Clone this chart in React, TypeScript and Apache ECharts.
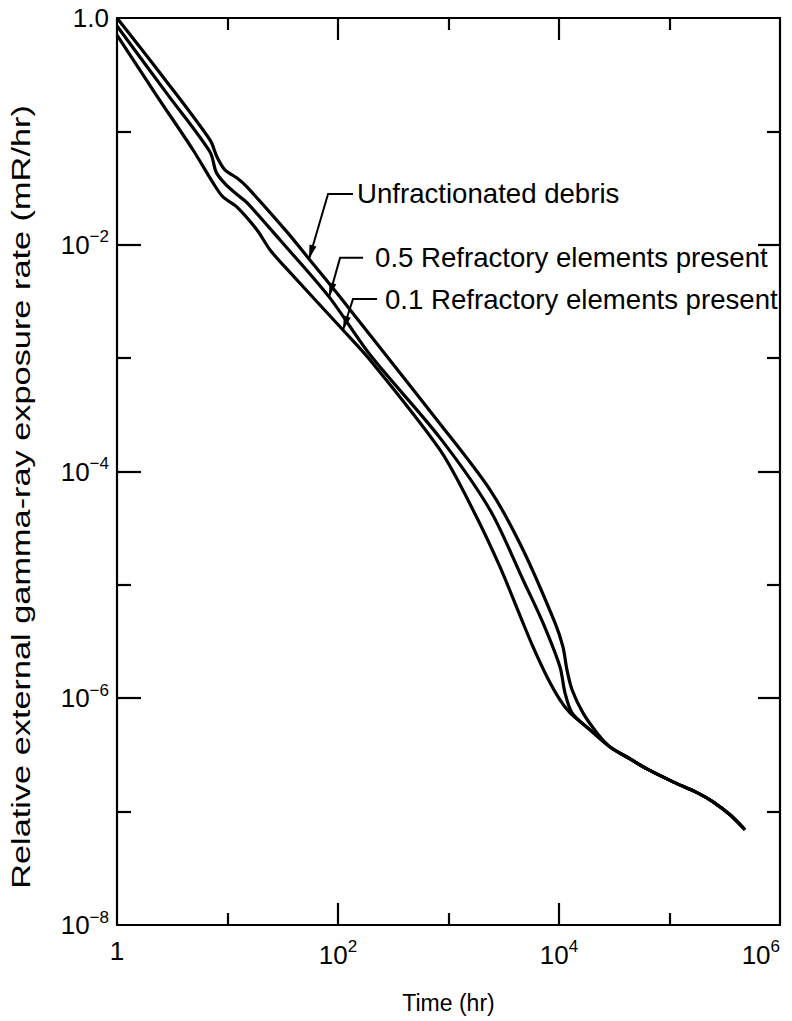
import React, { useEffect, useRef } from "react";
import * as echarts from "echarts";

// ---- data (time in hr, relative exposure rate) ----
const timeUnfrac = [1, 2.61, 6.95, 8.04, 9.48, 12.2, 15.0, 34.5, 54.7, 104, 195, 787, 2377, 4721, 9204, 10860, 11800, 13120, 16480, 22080];
const rateUnfrac = [1, 0.302, 0.0839, 0.0594, 0.0457, 0.0388, 0.0324, 0.013, 0.0075, 0.00347, 0.0016, 0.000285, 6.89e-5, 2.04e-5, 4.62e-6, 2.84e-6, 1.78e-6, 1.19e-6, 7.43e-7, 4.95e-7];

const timeHalf = [1, 2.9, 6.95, 7.9, 9.48, 12.2, 15.0, 29.9, 83.0, 195, 838, 2377, 4721, 7161, 10210, 11320, 13120, 19100];
const rateHalf = [0.849, 0.209, 0.0658, 0.0436, 0.0346, 0.0277, 0.0235, 0.011, 0.00347, 0.00107, 0.000198, 4.58e-5, 1.11e-5, 4.62e-6, 1.89e-6, 1.12e-6, 7.43e-7, 5.26e-7];

const timeTenth = [1, 2.3, 4.88, 7.4, 9.1, 12.2, 18.5, 24.3, 33.1, 111, 195, 838, 1667, 2924, 4721, 5821, 7780, 10210, 12590, 19100];
const rateTenth = [0.708, 0.205, 0.0685, 0.0351, 0.0264, 0.0215, 0.0135, 0.00899, 0.00637, 0.00177, 0.000964, 0.000155, 4.58e-5, 1.44e-5, 4.62e-6, 2.84e-6, 1.55e-6, 9.68e-7, 7.43e-7, 5.26e-7];

// common tail after the curves merge
const timeTail = [28970, 43950, 62520, 107700, 177500, 247700, 353200, 481900];
const rateTail = [3.72e-7, 2.92e-7, 2.38e-7, 1.83e-7, 1.47e-7, 1.22e-7, 9.37e-8, 6.92e-8];

const seriesNames = ["Unfractionated debris", "0.5 Refractory elements present", "0.1 Refractory elements present"];

// tick values and labels
const xLabelValues = [1, 1e2, 1e4, 1e6];
const xLabelBase = ["1", "10", "10", "10"];
const xLabelExp = ["", "2", "4", "6"];
const xShortTicks = [10, 1e3, 1e5];
const xLongTicks = [1e2, 1e4];

const yLabelValues = [1, 1e-2, 1e-4, 1e-6, 1e-8];
const yLabelBase = ["1.0", "10", "10", "10", "10"];
const yLabelExp = ["", "\u22122", "\u22124", "\u22126", "\u22128"];
const yShortTicks = [1e-1, 1e-3, 1e-5, 1e-7];
const yLongTicks = [1e-2, 1e-4, 1e-6];

// annotation anchor points (on curves, data space)
const annotTip: [number, number][] = [[54.7, 0.0075], [83.0, 0.00347], [111, 0.00177]];

const FONT = "Liberation Sans, Arial, Helvetica, sans-serif";

function findIdx(list: number[], v: number) {
  return list.findIndex((x) => Math.abs(Math.log10(x) - Math.log10(v)) < 1e-6);
}

const rich = {
  b: { fontSize: 26, fontFamily: FONT, color: "#000" },
  s: { fontSize: 17, fontFamily: FONT, color: "#000", padding: [0, 0, 16, 0] },
};

function fmt(bases: string[], exps: string[], values: number[]) {
  return (v: number) => {
    const i = findIdx(values, v);
    if (i < 0) return "";
    if (!exps[i]) return `{b|${bases[i]}}`;
    return `{b|${bases[i]}}{s|${exps[i]}}`;
  };
}

const pair = (t: number[], r: number[]) => t.map((x, i) => [x, r[i]]);

export default function App() {
  const ref = useRef<HTMLDivElement>(null);
  useEffect(() => {
    if (!ref.current) return;
    const chart = echarts.init(ref.current, null, { renderer: "svg" });
    const lineW = 2.2;
    const xBase = { type: "log", logBase: 10, min: 1, max: 1e6, splitLine: { show: false } };
    const yBase = { type: "log", logBase: 10, min: 1e-8, max: 1, splitLine: { show: false } };
    const axLine = { show: true, lineStyle: { color: "#000", width: lineW } };
    const noLine = { show: false };
    const tick = (len: number, vals: number[]) => ({
      show: true, inside: true, length: len, customValues: vals, lineStyle: { color: "#000", width: lineW },
    });
    const noLabel = { show: false };

    const lineStyle = { color: "#000", width: 3.2 };
    const mk = (name: string, t: number[], r: number[]) => ({
      name, type: "line", xAxisIndex: 0, yAxisIndex: 0, showSymbol: false, symbol: "none",
      smooth: 0.3, lineStyle, data: pair(t.concat(timeTail), r.concat(rateTail)),
    });

    chart.setOption({
      animation: false,
      backgroundColor: "#fff",
      grid: { left: 117, right: 12, top: 18, bottom: 96, containLabel: false },
      xAxis: [
        {
          ...xBase, position: "bottom", axisLine: axLine, axisTick: tick(12, xShortTicks),
          axisLabel: {
            customValues: xLabelValues, margin: 13, formatter: fmt(xLabelBase, xLabelExp, xLabelValues), rich,
            alignMaxLabel: "right", color: "#000",
          },
          name: "Time (hr)", nameLocation: "middle", nameGap: 66,
          nameTextStyle: { fontSize: 23, fontFamily: FONT, color: "#000" },
        },
        { ...xBase, position: "bottom", axisLine: noLine, axisTick: tick(22, xLongTicks), axisLabel: noLabel },
        { ...xBase, position: "top", axisLine: axLine, axisTick: tick(12, xShortTicks), axisLabel: noLabel },
        { ...xBase, position: "top", axisLine: noLine, axisTick: tick(22, xLongTicks), axisLabel: noLabel },
      ],
      yAxis: [
        {
          ...yBase, position: "left", axisLine: axLine, axisTick: tick(14, yShortTicks),
          axisLabel: {
            customValues: yLabelValues, margin: 8, formatter: fmt(yLabelBase, yLabelExp, yLabelValues), rich, color: "#000",
          },
        },
        { ...yBase, position: "left", axisLine: noLine, axisTick: tick(24, yLongTicks), axisLabel: noLabel },
        { ...yBase, position: "right", axisLine: axLine, axisTick: tick(13, yShortTicks), axisLabel: noLabel },
        { ...yBase, position: "right", axisLine: noLine, axisTick: tick(22, yLongTicks), axisLabel: noLabel },
      ],
      series: [
        mk(seriesNames[0], timeUnfrac, rateUnfrac),
        mk(seriesNames[1], timeHalf, rateHalf),
        mk(seriesNames[2], timeTenth, rateTenth),
      ],
    });

    // annotations: leader lines with arrowheads, anchored on the curves
    const tips = annotTip.map((p) => chart.convertToPixel({ xAxisIndex: 0, yAxisIndex: 0 }, p) as number[]);
    const elbowOff = [[19, -65], [11, -39], [10, -31]];
    const horiz = [25, 23, 24];
    const textGap = [4, 12, 8];
    const elements: any[] = [];
    tips.forEach((tp, i) => {
      const el = [tp[0] + elbowOff[i][0], tp[1] + elbowOff[i][1]];
      const end = [el[0] + horiz[i], el[1]];
      elements.push({
        type: "polyline", silent: true,
        shape: { points: [[tp[0], tp[1]], el, end] },
        style: { stroke: "#000", lineWidth: 2, fill: null },
      });
      const dx = el[0] - tp[0], dy = el[1] - tp[1];
      const L = Math.hypot(dx, dy), ux = dx / L, uy = dy / L;
      const len = 14, half = 3.6;
      const bx = tp[0] + ux * len, by = tp[1] + uy * len;
      elements.push({
        type: "polygon", silent: true,
        shape: { points: [[tp[0], tp[1]], [bx - uy * half, by + ux * half], [bx + uy * half, by - ux * half]] },
        style: { fill: "#000" },
      });
      elements.push({
        type: "text", silent: true, x: end[0] + textGap[i], y: el[1],
        style: { text: seriesNames[i], font: `27.6px ${FONT}`, fill: "#000", align: "left", verticalAlign: "middle" },
      });
    });
    elements.push({
      type: "text", silent: true, x: 21, y: 497, rotation: Math.PI / 2, scaleX: 1.32,
      style: {
        text: "Relative external gamma-ray exposure rate (mR/hr)", font: `26px ${FONT}`, fill: "#000",
        align: "center", verticalAlign: "middle",
      },
    });
    chart.setOption({ graphic: { elements } });

    return () => chart.dispose();
  }, []);
  return <div ref={ref} style={{ position: "absolute", left: 0, top: 0, width: 792, height: 1021 }} />;
}
